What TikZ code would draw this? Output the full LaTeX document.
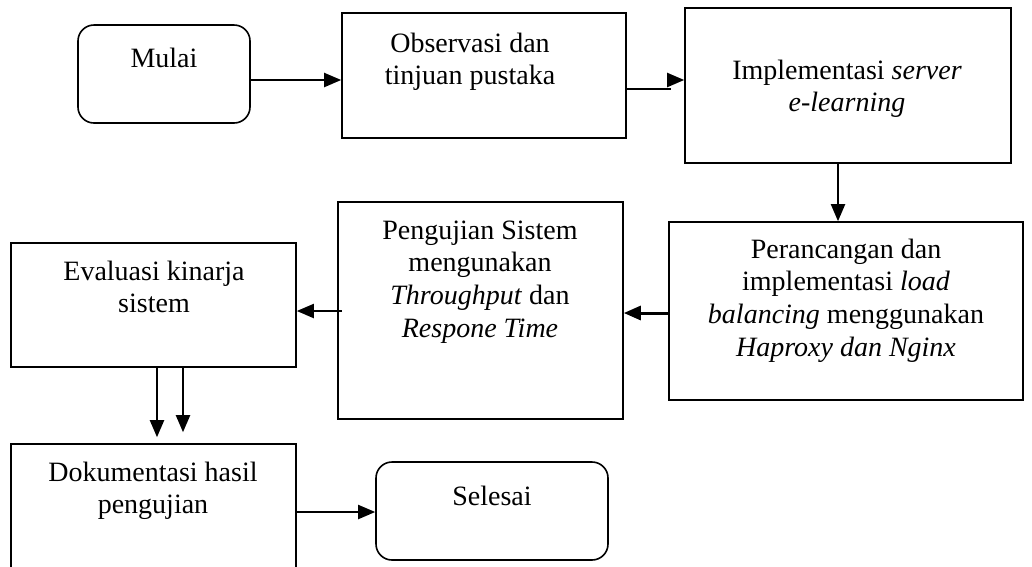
\documentclass[tikz,border=0pt]{standalone}
\usepackage{fontspec}
\setmainfont{Liberation Serif}
\usetikzlibrary{arrows.meta}

% stacked, centred lines whose baseline is that of the first line
\newcommand{\stackedlines}[1]{\begin{tabular}[t]{@{}c@{}}#1\end{tabular}}

\tikzset{
  box/.style={draw, line width=1.6pt, rectangle, inner sep=0pt},
  roundbox/.style={box, rounded corners=16pt},
  label text/.style={anchor=base, inner sep=0pt,
    font=\fontsize{28}{32.8}\selectfont},
  flow/.style={line width=2pt, -{Triangle[length=17pt,width=14pt]}},
  plain/.style={line width=2pt},
}

\begin{document}
\begin{tikzpicture}[x=1pt,y=-1pt]
\useasboundingbox (0,0) rectangle (1032,566);

% process boxes
\node[roundbox, minimum width=172pt, minimum height=98pt]  (mulai)   at (164,74)    {};
\node[box,      minimum width=284pt, minimum height=125pt] (obs)     at (484,75.5)  {};
\node[box,      minimum width=326pt, minimum height=155pt] (impl)    at (848,85.5)  {};
\node[box,      minimum width=354pt, minimum height=178pt] (peran)   at (846,311)   {};
\node[box,      minimum width=285pt, minimum height=217pt] (uji)     at (480.5,310.5) {};
\node[box,      minimum width=285pt, minimum height=124pt] (eval)    at (153.5,305) {};
\node[box,      minimum width=285pt, minimum height=156pt] (dok)     at (153.5,522) {};
\node[roundbox, minimum width=232pt, minimum height=98pt]  (selesai) at (492,511)   {};

% box texts
\node[label text] (mulai-t)   at (164,67)  {Mulai};
\node[label text] (obs-t)     at (470,52)  {\stackedlines{Observasi dan\\tinjuan pustaka}};
\node[label text] (impl-t)    at (847,79)  {\stackedlines{Implementasi \textit{server}\\\textit{e-learning}}};
\node[label text] (peran-t)   at (846,258) {\stackedlines{Perancangan dan\\implementasi \textit{load}\\\textit{balancing} menggunakan\\\textit{Haproxy dan Nginx}}};
\node[label text] (uji-t)     at (480,239) {\stackedlines{Pengujian Sistem\\mengunakan\\\textit{Throughput} dan\\\textit{Respone Time}}};
\node[label text] (eval-t)    at (154,280) {\stackedlines{Evaluasi kinarja\\sistem}};
\node[label text] (dok-t)     at (153,481) {\stackedlines{Dokumentasi hasil\\pengujian}};
\node[label text] (selesai-t) at (492,505) {Selesai};

% connectors
\draw[flow] ([yshift=-6pt]mulai.east) -- ([yshift=-4.5pt]obs.west);

\coordinate (jog) at (671,89);
\coordinate (jogtip) at (667,80);
\draw[plain] ([yshift=-13.5pt]obs.east) -- (jog);
\draw[flow] (jogtip) -- ([yshift=5.5pt]impl.west);

\draw[flow] ([xshift=-10pt]impl.south) -- ([xshift=-8pt]peran.north);

\draw[flow, line width=3pt] ([yshift=-2pt]peran.west) -- ([yshift=-2.5pt]uji.east);

\draw[flow] ([xshift=5pt,yshift=-0.5pt]uji.west) -- ([yshift=-6pt]eval.east);

\draw[flow] ([xshift=3.5pt]eval.south) -- ([xshift=3.5pt,yshift=6pt]dok.north);
\draw[flow] ([xshift=29.5pt]eval.south) -- ([xshift=29.5pt,yshift=11pt]dok.north);

\draw[flow] ([yshift=10pt]dok.east) -- ([yshift=-1pt]selesai.west);
\end{tikzpicture}
\end{document}
